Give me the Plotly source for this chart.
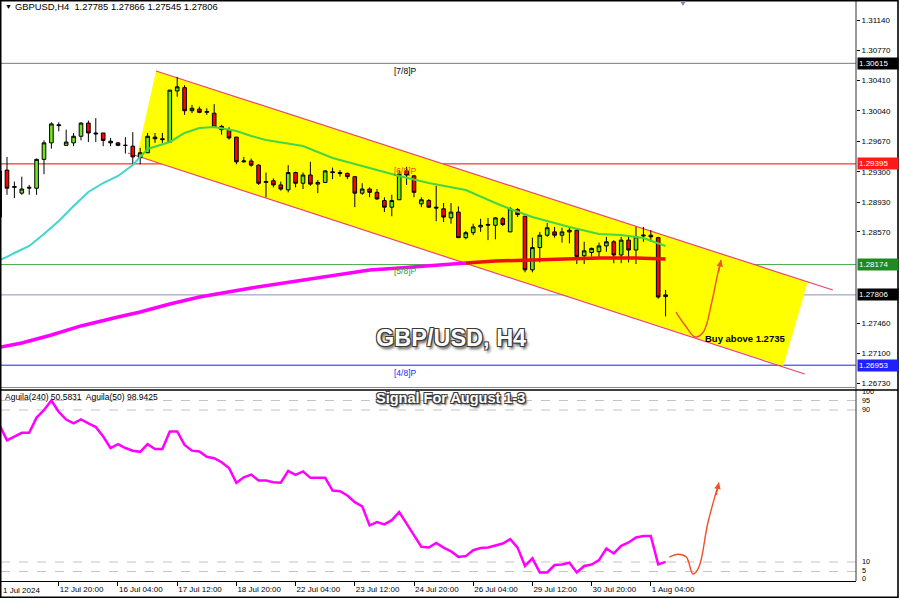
import plotly.graph_objects as go

# ---------------- data ----------------
bar_index = list(range(-1, 90))

opens = [1.2875,
    1.2932, 1.2911, 1.2904, 1.2910, 1.2910, 1.2945, 1.2965, 1.2987, 1.2962, 1.2965,
    1.2973, 1.2989, 1.2977, 1.2977, 1.2967, 1.2965, 1.2962, 1.2961, 1.2947, 1.2953,
    1.2972, 1.2970, 1.2966, 1.3028, 1.3032, 1.3004, 1.3006, 1.3002, 1.3001, 1.2985,
    1.2981, 1.2972, 1.2942, 1.2943, 1.2938, 1.2917, 1.2919, 1.2914, 1.2908, 1.2929,
    1.2916, 1.2926, 1.2915, 1.2917, 1.2930, 1.2929, 1.2928, 1.2924, 1.2904, 1.2909,
    1.2905, 1.2895, 1.2887, 1.2896, 1.2931, 1.2925, 1.2891, 1.2895, 1.2887, 1.2885,
    1.2874, 1.2881, 1.2850, 1.2856, 1.2863, 1.2865, 1.2865, 1.2873, 1.2857, 1.2884,
    1.2876, 1.2811, 1.2838, 1.2853, 1.2857, 1.2853, 1.2857, 1.2859, 1.2828, 1.2832,
    1.2833, 1.2840, 1.2845, 1.2829, 1.2847, 1.2835, 1.2852, 1.2853, 1.2850, 1.27785]
highs = [1.2935,
    1.2948, 1.2918, 1.2924, 1.2914, 1.2946, 1.2968, 1.2990, 1.2990, 1.2981, 1.2977,
    1.2990, 1.2992, 1.2995, 1.2977, 1.2971, 1.2966, 1.2972, 1.2978, 1.2959, 1.2977,
    1.2977, 1.2977, 1.3029, 1.3045, 1.3035, 1.3011, 1.3009, 1.3007, 1.3012, 1.2987,
    1.2984, 1.2972, 1.2948, 1.2946, 1.2939, 1.2929, 1.2922, 1.2918, 1.2938, 1.2930,
    1.2929, 1.2942, 1.2920, 1.2932, 1.2935, 1.2932, 1.2929, 1.2924, 1.2916, 1.2911,
    1.2909, 1.2899, 1.2902, 1.2932, 1.2936, 1.2926, 1.2899, 1.2897, 1.2913, 1.2892,
    1.2892, 1.2888, 1.2858, 1.2867, 1.2873, 1.2874, 1.2875, 1.2875, 1.2887, 1.2886,
    1.2876, 1.2850, 1.2857, 1.2868, 1.2863, 1.2862, 1.2863, 1.2861, 1.2845, 1.2838,
    1.2844, 1.2851, 1.2847, 1.2851, 1.2851, 1.2863, 1.2863, 1.2859, 1.2851, 1.27866]
lows = [1.2870,
    1.2902, 1.2898, 1.2902, 1.2902, 1.2902, 1.2927, 1.2958, 1.2979, 1.2962, 1.2961,
    1.2968, 1.2966, 1.2966, 1.2961, 1.2961, 1.2961, 1.2952, 1.2938, 1.2939, 1.2953,
    1.2965, 1.2965, 1.2965, 1.3021, 1.2999, 1.3001, 1.3001, 1.2999, 1.2983, 1.2975,
    1.2969, 1.2939, 1.2941, 1.2936, 1.2914, 1.2899, 1.2911, 1.2907, 1.2905, 1.2911,
    1.2909, 1.2913, 1.2904, 1.2917, 1.2921, 1.2924, 1.2921, 1.2887, 1.2902, 1.2899,
    1.2896, 1.2881, 1.2876, 1.2896, 1.2914, 1.2899, 1.2887, 1.2886, 1.2870, 1.2869,
    1.2867, 1.2850, 1.2848, 1.2853, 1.2857, 1.2847, 1.2848, 1.2864, 1.2857, 1.2875,
    1.2808, 1.2808, 1.2820, 1.2851, 1.2850, 1.2844, 1.2843, 1.2818, 1.2818, 1.2827,
    1.2825, 1.2833, 1.2819, 1.2819, 1.2820, 1.2818, 1.2845, 1.2845, 1.2776, 1.27545]
closes = [1.2931,
    1.2910, 1.2912, 1.2909, 1.2911, 1.2945, 1.2965, 1.2988, 1.2986, 1.2966, 1.2973,
    1.2989, 1.2977, 1.2976, 1.2968, 1.2965, 1.2962, 1.2962, 1.2948, 1.2953, 1.2973,
    1.2970, 1.2969, 1.3029, 1.3033, 1.3004, 1.3007, 1.3002, 1.3003, 1.2984, 1.2981,
    1.2971, 1.2942, 1.2943, 1.2938, 1.2916, 1.2918, 1.2914, 1.2909, 1.2929, 1.2916,
    1.2926, 1.2915, 1.2917, 1.2931, 1.2929, 1.2928, 1.2924, 1.2904, 1.2909, 1.2905,
    1.2897, 1.2887, 1.2895, 1.2927, 1.2926, 1.2905, 1.2896, 1.2887, 1.2886, 1.2875,
    1.2881, 1.2850, 1.2856, 1.2863, 1.2865, 1.2866, 1.2874, 1.2866, 1.2885, 1.2878,
    1.2811, 1.2838, 1.2853, 1.2862, 1.2853, 1.2857, 1.2859, 1.2827, 1.2834, 1.2837,
    1.2840, 1.2845, 1.2829, 1.2847, 1.2835, 1.2851, 1.2853, 1.2851, 1.2778, 1.27806]

aguila = [82,
    74, 76, 78, 78, 86, 90, 95, 89, 85, 83,
    85, 83, 81, 76, 70, 72, 70, 68.6, 68, 72,
    69.5, 69.5, 78.7, 78.7, 71.6, 68.6, 68.2, 65.4, 64.6, 62.5,
    59.5, 51.7, 54.6, 56, 52.9, 52.9, 52, 51.7, 58, 55.9,
    57.7, 54.3, 54.3, 54.3, 47.6, 47.3, 45, 41.5, 39.3, 29.3,
    31, 29.8, 32, 36.3, 30.2, 24, 18, 17.6, 20, 17.6,
    15.6, 12.7, 13.1, 16.2, 17.4, 17.6, 18.5, 19.7, 22, 17.6,
    7.9, 11.9, 4.5, 4.5, 8.4, 8.7, 9.6, 4.5, 7.9, 8.7,
    11, 17.1, 14.5, 18.5, 20.3, 22.9, 23.7, 23.7, 8.7, 10.1]

ma_fast_idx = [-1, 0, 1, 3, 5, 7, 9, 11, 13, 15, 17, 18,
               19, 22, 24, 26, 28, 31, 33, 35, 40, 44, 48, 53, 57, 62, 66, 68, 71, 76, 80, 83, 86, 89]
ma_fast_val = [1.28230, 1.28266, 1.28314, 1.28399, 1.28545, 1.28702, 1.28884, 1.29054, 1.29163, 1.29248, 1.29382, 1.29479,
               1.29576, 1.29661, 1.29770, 1.29830, 1.29843, 1.29794, 1.29733, 1.29685, 1.29612, 1.29466, 1.29369,
               1.29248, 1.29163, 1.29078, 1.28921, 1.28848, 1.28751, 1.28630, 1.28545, 1.28532, 1.28496, 1.28399]
fast_split = 11  # point where the line enters the channel

ma_slow_idx = [-1, 0, 2, 6, 10, 15, 18, 22, 26, 33, 40, 44, 49, 53, 58, 62, 66, 71, 76, 80, 85, 89]
ma_slow_val = [1.27170, 1.27186, 1.27222, 1.27319, 1.27429, 1.27538, 1.27598, 1.27696, 1.27780, 1.27890, 1.27987,
               1.28047, 1.28108, 1.28132, 1.28169, 1.28193, 1.28217, 1.28229, 1.28242, 1.28254, 1.28254, 1.28242]
slow_split = 15

tick_pos = [7, 15, 23, 31, 39, 47, 55, 63, 71, 79, 87]
tick_text = ["12 Jul 20:00", "16 Jul 04:00", "17 Jul 12:00", "18 Jul 20:00", "22 Jul 04:00",
             "23 Jul 12:00", "24 Jul 20:00", "26 Jul 04:00", "29 Jul 12:00", "30 Jul 20:00", "1 Aug 04:00"]

price_ticks = [1.31140, 1.30770, 1.30410, 1.30040, 1.29670, 1.29300, 1.28930, 1.28570, 1.27460, 1.27100, 1.26730]

levels = [  # value, line colour, tag colour, label, label colour
    (1.30615, "#7a7a7a", "#000000", "[7/8]P", "#000000"),
    (1.29395, "#ff0000", "#ff1a1a", "[6/8]P", "#ff4500"),
    (1.28174, "#4caf4c", "#1f8a1f", "[5/8]P", "#2e9e2e"),
    (1.26953, "#1f1fff", "#1f1fff", "[4/8]P", "#1f1fff"),
]
last_price = 1.27806

# channel geometry (index, price)
chan_upper = [(20.14, 1.30522), (111.6, 1.27865)]
chan_lower = [(16.35, 1.29527), (107.8, 1.26846)]
chan_fill = [(20.14, 1.30522), (108.2, 1.27962), (104.9, 1.26943), (17.57, 1.29491)]

arrow_main = [(90.4, 1.27598), (91.6, 1.27441), (93.0, 1.27295), (94.1, 1.27356), (95.3, 1.27744), (96.1, 1.28084), (96.5, 1.28229)]
arrow_low = [(89.5, 12.6), (90.7, 14.1), (91.8, 12.6), (92.7, 3.7), (93.5, 7.3), (94.7, 30.4), (96.2, 51.8)]

# ---------------- layout helpers (pixel -> paper) ----------------
W, H = 900, 599
PL, PR, PT, PB = 1, 856, 2, 581


def pxx(x):
    return (x - PL) / (PR - PL)


def pxy(y):
    return (PB - y) / (PB - PT)


FONT = "Liberation Sans, Arial, sans-serif"
ARROW_COL = "#f0502a"

fig = go.Figure()

# Moving averages (colour changes where they run inside the yellow channel)
fig.add_trace(go.Scatter(x=ma_slow_idx[:slow_split + 1], y=ma_slow_val[:slow_split + 1], mode="lines",
                         line=dict(color="#ff00ff", width=3.5), xaxis="x", yaxis="y", hoverinfo="skip"))
fig.add_trace(go.Scatter(x=ma_slow_idx[slow_split:], y=ma_slow_val[slow_split:], mode="lines",
                         line=dict(color="#ee1111", width=3.5), xaxis="x", yaxis="y", hoverinfo="skip"))
fig.add_trace(go.Scatter(x=ma_fast_idx[:fast_split + 1], y=ma_fast_val[:fast_split + 1], mode="lines",
                         line=dict(color="#3fd6cc", width=2), xaxis="x", yaxis="y", hoverinfo="skip"))
fig.add_trace(go.Scatter(x=ma_fast_idx[fast_split:], y=ma_fast_val[fast_split:], mode="lines",
                         line=dict(color="#44d644", width=2), xaxis="x", yaxis="y", hoverinfo="skip"))

fig.add_trace(go.Candlestick(
    x=bar_index, open=opens, high=highs, low=lows, close=closes,
    increasing=dict(fillcolor="#72e51a", line=dict(color="#000000", width=1)),
    decreasing=dict(fillcolor="#ff0000", line=dict(color="#000000", width=1)),
    whiskerwidth=0, xaxis="x", yaxis="y", hoverinfo="skip"))

# hand-drawn arrows
fig.add_trace(go.Scatter(x=[p[0] for p in arrow_main], y=[p[1] for p in arrow_main], mode="lines",
                         line=dict(color=ARROW_COL, width=1.4, shape="spline"), xaxis="x", yaxis="y", hoverinfo="skip"))
fig.add_trace(go.Scatter(x=[p[0] for p in arrow_low], y=[p[1] for p in arrow_low], mode="lines",
                         line=dict(color=ARROW_COL, width=1.4, shape="spline"), xaxis="x", yaxis="y2", hoverinfo="skip"))

# Aguila indicator
fig.add_trace(go.Scatter(x=bar_index, y=aguila, mode="lines", line=dict(color="#ff00ff", width=2.5),
                         xaxis="x", yaxis="y2", hoverinfo="skip"))

shapes = []
# yellow channel
path = "M " + " L ".join(f"{x},{y}" for x, y in chan_fill) + " Z"
shapes.append(dict(type="path", path=path, xref="x", yref="y", fillcolor="#ffff00", line=dict(width=0), layer="below"))
for (x0, y0), (x1, y1) in (chan_upper, chan_lower):
    shapes.append(dict(type="line", xref="x", yref="y", x0=x0, y0=y0, x1=x1, y1=y1,
                       line=dict(color="#ee4466", width=1.2), layer="below"))
# level lines
for val, lc, tc, lab, labc in levels:
    shapes.append(dict(type="line", xref="paper", yref="y", x0=0, x1=1, y0=val, y1=val,
                       line=dict(color=lc, width=1), layer="below"))
shapes.append(dict(type="line", xref="paper", yref="y", x0=0, x1=1, y0=last_price, y1=last_price,
                   line=dict(color="#8e92b8", width=1), layer="below"))
# lower panel dashed levels
for v in (95, 90, 10, 5):
    shapes.append(dict(type="line", xref="paper", yref="y2", x0=0, x1=1, y0=v, y1=v,
                       line=dict(color="#c4c4c4", width=1, dash="dash"), layer="below"))
# frames and separators
shapes.append(dict(type="line", xref="paper", yref="paper", x0=1, x1=1, y0=0, y1=pxy(0.5),
                   line=dict(color="#333333", width=1)))
shapes.append(dict(type="line", xref="paper", yref="paper", x0=0, x1=1, y0=pxy(387.5), y1=pxy(387.5),
                   line=dict(color="#8a8a8a", width=1)))
shapes.append(dict(type="line", xref="paper", yref="paper", x0=pxx(0), x1=pxx(898), y0=pxy(390), y1=pxy(390),
                   line=dict(color="#000000", width=1.5)))
shapes.append(dict(type="rect", xref="paper", yref="paper", x0=pxx(0.7), x1=pxx(898), y0=pxy(597.3), y1=pxy(0.7),
                   line=dict(color="#000000", width=1.6)))
# small shift marker at the top
shapes.append(dict(type="path", xref="paper", yref="paper",
                   path=f"M {pxx(680)},{pxy(1)} L {pxx(686)},{pxy(1)} L {pxx(683)},{pxy(6)} Z",
                   fillcolor="#8090a0", line=dict(width=0)))

ann = []
small = dict(family=FONT, size=8, color="#000000")
ann.append(dict(xref="paper", yref="paper", x=pxx(3), y=pxy(7), text="▼", showarrow=False,
                xanchor="left", yanchor="middle", font=dict(family=FONT, size=7, color="#000")))
ann.append(dict(xref="paper", yref="paper", x=pxx(13), y=pxy(7),
                text="GBPUSD,H4  1.27785 1.27866 1.27545 1.27806", showarrow=False,
                xanchor="left", yanchor="middle", font=dict(family=FONT, size=9.4, color="#000")))
ann.append(dict(xref="paper", yref="paper", x=pxx(3), y=pxy(397),
                text="Aguila(240) 50.5831  Aguila(50) 98.9425", showarrow=False,
                xanchor="left", yanchor="middle", font=dict(family=FONT, size=8.5, color="#000")))
# level labels and axis tags
lab_y = {"[7/8]P": 71, "[6/8]P": 171, "[5/8]P": 271, "[4/8]P": 373}
for val, lc, tc, lab, labc in levels:
    ann.append(dict(xref="paper", yref="paper", x=pxx(405), y=pxy(lab_y[lab]), text=lab, showarrow=False,
                    xanchor="center", yanchor="middle", font=dict(family=FONT, size=8.5, color=labc)))
    ann.append(dict(xref="paper", yref="y", x=pxx(857), y=val, text=f"{val:.5f}", showarrow=False,
                    xanchor="left", yanchor="middle", bgcolor=tc, borderpad=1, width=38, align="left",
                    font=dict(family=FONT, size=8, color="#ffffff")))
ann.append(dict(xref="paper", yref="y", x=pxx(857), y=last_price, text=f"{last_price:.5f}", showarrow=False,
                xanchor="left", yanchor="middle", bgcolor="#000000", borderpad=1, width=38, align="left",
                font=dict(family=FONT, size=8, color="#ffffff")))
# lower panel scale labels
for txt, yy in (("100", 392), ("95", 400.5), ("90", 409.5), ("10", 561.5), ("5", 570), ("0", 578)):
    ann.append(dict(xref="paper", yref="paper", x=pxx(860), y=pxy(yy), text=txt, showarrow=False,
                    xanchor="left", yanchor="middle", font=dict(family=FONT, size=7.3, color="#000")))
# first date label (clipped at the left edge)
ann.append(dict(xref="paper", yref="paper", x=pxx(1), y=pxy(590), text="1 Jul 2024", showarrow=False,
                xanchor="left", yanchor="middle", font=small))
# titles with outline / shadow
outline = ("1px 1px 0 #3a3a3a, -1px -1px 0 #3a3a3a, 1px -1px 0 #3a3a3a, -1px 1px 0 #3a3a3a, "
           "2px 3px 3px #555555")
ann.append(dict(xref="paper", yref="paper", x=pxx(451), y=pxy(338), text="GBP/USD, H4", showarrow=False,
                xanchor="center", yanchor="middle",
                font=dict(family=FONT, size=23.5, color="#ffffff", weight="bold", shadow=outline)))
ann.append(dict(xref="paper", yref="paper", x=pxx(450), y=pxy(398), text="Signal For August 1-3", showarrow=False,
                xanchor="center", yanchor="middle",
                font=dict(family=FONT, size=14.5, color="#ffffff", weight="bold",
                          shadow="1px 1px 0 #3a3a3a, -1px -1px 0 #3a3a3a, 1px -1px 0 #3a3a3a, -1px 1px 0 #3a3a3a, 2px 2px 2px #555")))
ann.append(dict(xref="paper", yref="paper", x=pxx(703), y=pxy(338), text="Buy above 1.2735", showarrow=False,
                xanchor="left", yanchor="middle", font=dict(family=FONT, size=9.5, color="#000", weight="bold")))
# arrow heads
ann.append(dict(xref="x", yref="y", x=arrow_main[-1][0], y=arrow_main[-1][1], ax=-3, ay=14, text="",
                showarrow=True, arrowhead=2, arrowsize=1, arrowwidth=1.3, arrowcolor=ARROW_COL))
ann.append(dict(xref="x", yref="y2", x=arrow_low[-1][0], y=arrow_low[-1][1], ax=-3, ay=14, text="",
                showarrow=True, arrowhead=2, arrowsize=1, arrowwidth=1.3, arrowcolor=ARROW_COL))

fig.update_layout(
    width=W, height=H, margin=dict(l=PL, r=W - PR, t=PT, b=H - PB),
    paper_bgcolor="#ffffff", plot_bgcolor="#ffffff", showlegend=False,
    font=dict(family=FONT, size=8, color="#000000"),
    xaxis=dict(anchor="y2", range=[-0.81, 114.73], tickvals=tick_pos, ticktext=tick_text,
               ticklabelposition="outside right", ticks="outside", ticklen=4, tickcolor="#000",
               showline=True, linecolor="#000", linewidth=1, showgrid=False, zeroline=False,
               rangeslider=dict(visible=False), tickfont=dict(family=FONT, size=8)),
    yaxis=dict(domain=[pxy(390), 1], range=[1.26652, 1.31359], side="right", anchor="x",
               tickvals=price_ticks, ticktext=[f"{v:.5f}" for v in price_ticks],
               ticks="outside", ticklen=3, tickcolor="#000", showgrid=False, zeroline=False,
               tickfont=dict(family=FONT, size=8)),
    yaxis2=dict(domain=[0, pxy(391)], range=[0, 100], anchor="x", showticklabels=False,
                showgrid=False, zeroline=False),
    shapes=shapes, annotations=ann,
)

fig.write_html("out.html", config={"displayModeBar": False},
               post_script="document.body.style.margin='0px';document.body.style.padding='0px';")
